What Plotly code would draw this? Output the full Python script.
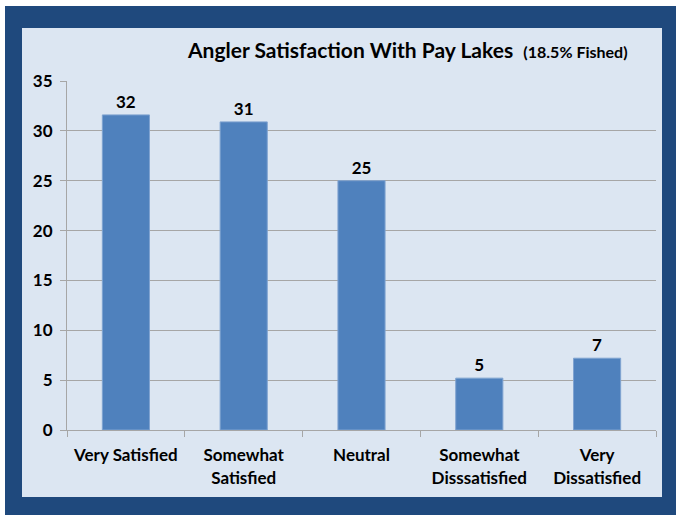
import plotly.graph_objects as go

# survey answers
categories = ['Very Satisfied', 'Somewhat<br>Satisfied', 'Neutral',
              'Somewhat<br>Disssatisfied', 'Very<br>Dissatisfied']
values = [31.6, 30.9, 25.0, 5.2, 7.2]
labels = ['32', '31', '25', '5', '7']
y_ticks = [0, 5, 10, 15, 20, 25, 30, 35]

W, H = 678, 515
L, R, T, B = 67, 22, 81, 85
pw, ph = W - L - R, H - T - B


def px_x(x):
    return (x - L) / pw


def px_y(y):
    return (H - B - y) / ph


fig = go.Figure(go.Bar(
    x=categories, y=values, text=labels, textposition='outside',
    textfont=dict(size=17, color='black', family='Lato', weight='bold'),
    marker=dict(color='#4F81BD', line=dict(color='#7FA3D0', width=1)),
    width=0.4, cliponaxis=False,
))

# dark frame and light panel behind the plot
fig.add_shape(type='rect', xref='paper', yref='paper', layer='below',
              x0=px_x(5), x1=px_x(676), y0=px_y(515), y1=px_y(6),
              fillcolor='#1F497D', line=dict(width=0))
fig.add_shape(type='rect', xref='paper', yref='paper', layer='below',
              x0=px_x(22), x1=px_x(662), y0=px_y(497), y1=px_y(28),
              fillcolor='#DCE6F2', line=dict(width=0))

fig.add_annotation(
    text='Angler Satisfaction With Pay Lakes  <span style="font-size:16px">(18.5% Fished)</span>',
    xref='paper', yref='paper', x=px_x(407), y=px_y(50), showarrow=False,
    xanchor='center', yanchor='middle',
    font=dict(size=21, color='black', family='Lato', weight='bold'))

fig.update_layout(
    width=W, height=H, margin=dict(l=L, r=R, t=T, b=B),
    paper_bgcolor='white', plot_bgcolor='rgba(0,0,0,0)',
    showlegend=False, bargap=0.6,
    font=dict(family='Lato', size=17, color='black', weight='bold'),
)
fig.update_yaxes(range=[0, 35], tickvals=y_ticks, showgrid=True,
                 gridcolor='#A6A6A6', gridwidth=1, showline=True,
                 linecolor='#A6A6A6', ticks='outside', ticklen=6,
                 tickcolor='#A6A6A6', zeroline=False, ticklabelstandoff=4,
                 tickfont=dict(size=17, family='Lato', weight='bold'))
fig.update_xaxes(showline=True, linecolor='#A6A6A6', ticks='outside',
                 tickson='boundaries', ticklen=6, tickcolor='#A6A6A6',
                 tickangle=0, ticklabelstandoff=10,
                 tickfont=dict(size=17, family='Lato', weight='bold'))

fig.write_html('out.html', config={'displayModeBar': False},
               post_script="document.body.style.margin='0';")
